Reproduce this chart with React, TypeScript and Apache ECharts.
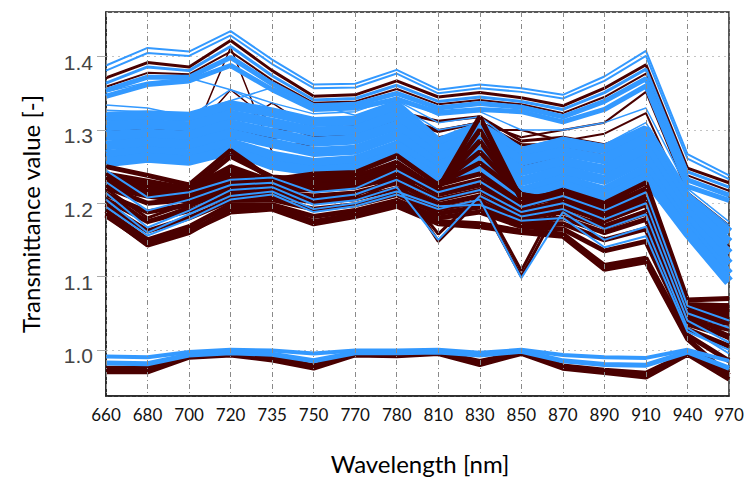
import React, { useEffect, useRef } from 'react';
import * as echarts from 'echarts';

// Wavelength channels (nm)
const wavelengths = ['660', '680', '700', '720', '735', '750', '770', '780', '810', '830', '850', '870', '890', '910', '940', '970'];

// Upper cluster
const upperBlue1 = [1.388, 1.412, 1.407, 1.435, 1.396, 1.362, 1.363, 1.382, 1.355, 1.362, 1.357, 1.348, 1.373, 1.408, 1.267, 1.238];
const upperBlue2 = [1.381, 1.405, 1.401, 1.429, 1.39, 1.357, 1.358, 1.377, 1.35, 1.357, 1.352, 1.343, 1.367, 1.401, 1.261, 1.233];
const upperBrown1 = [1.371, 1.392, 1.386, 1.422, 1.381, 1.346, 1.348, 1.367, 1.345, 1.351, 1.344, 1.333, 1.357, 1.389, 1.248, 1.228];
const upperBlue3 = [1.364, 1.386, 1.381, 1.414, 1.374, 1.341, 1.343, 1.361, 1.339, 1.345, 1.339, 1.328, 1.351, 1.383, 1.243, 1.222];
const upperBrown2 = [1.359, 1.378, 1.376, 1.407, 1.368, 1.337, 1.339, 1.356, 1.335, 1.341, 1.335, 1.323, 1.345, 1.377, 1.238, 1.217];
const upperBlue4 = [1.354, 1.372, 1.372, 1.399, 1.363, 1.333, 1.335, 1.35, 1.33, 1.336, 1.331, 1.318, 1.339, 1.37, 1.232, 1.211];
const upperBlue5 = [1.346, 1.362, 1.367, 1.388, 1.355, 1.328, 1.33, 1.342, 1.324, 1.328, 1.325, 1.311, 1.328, 1.36, 1.223, 1.204];

// Brown outliers peaking at 720 / 735 nm
const spikeBrown1 = [1.268, 1.262, 1.277, 1.413, 1.27, 1.255, 1.258, 1.28, 1.245, 1.26, 1.215, 1.228, 1.215, 1.245, 1.17, 1.1];
const spikeBrown2 = [1.29, 1.285, 1.29, 1.355, 1.31, 1.29, 1.29, 1.31, 1.28, 1.29, 1.24, 1.255, 1.245, 1.27, 1.19, 1.12];
const spikeBrown3 = [1.3, 1.3, 1.3, 1.3, 1.337, 1.3, 1.3, 1.315, 1.29, 1.3, 1.25, 1.265, 1.255, 1.285, 1.2, 1.135];

// Brown samples between upper cluster and middle band
const midBrown1 = [1.3, 1.3, 1.3, 1.31, 1.3, 1.3, 1.305, 1.325, 1.312, 1.318, 1.285, 1.29, 1.28, 1.3, 1.2, 1.15];
const midBrown2 = [1.29, 1.29, 1.29, 1.3, 1.29, 1.29, 1.295, 1.315, 1.298, 1.31, 1.28, 1.28, 1.27, 1.29, 1.19, 1.14];
const midBrown3 = [1.28, 1.28, 1.28, 1.29, 1.28, 1.28, 1.29, 1.31, 1.288, 1.3, 1.275, 1.275, 1.265, 1.285, 1.185, 1.13];
const riseBrown1 = [1.3, 1.3, 1.3, 1.31, 1.3, 1.3, 1.3, 1.32, 1.3, 1.31, 1.29, 1.3, 1.31, 1.352, 1.215, 1.17];
const riseBrown2 = [1.29, 1.29, 1.29, 1.3, 1.29, 1.29, 1.29, 1.31, 1.29, 1.3, 1.3, 1.285, 1.295, 1.323, 1.2, 1.15];

// Thin blue crossing samples
const crossBlue1 = [1.334, 1.33, 1.318, 1.355, 1.328, 1.312, 1.314, 1.335, 1.3, 1.31, 1.27, 1.28, 1.275, 1.3, 1.21, 1.16];
const crossBlue2 = [1.327, 1.325, 1.322, 1.34, 1.358, 1.335, 1.32, 1.34, 1.31, 1.318, 1.275, 1.29, 1.28, 1.31, 1.215, 1.17];
const crossBlue3 = [1.352, 1.365, 1.371, 1.355, 1.337, 1.322, 1.325, 1.345, 1.32, 1.325, 1.3, 1.3, 1.31, 1.33, 1.22, 1.175];

// Middle blue band
const middleBlue1 = [1.318, 1.32, 1.318, 1.334, 1.324, 1.311, 1.313, 1.333, 1.283, 1.305, 1.27, 1.283, 1.274, 1.3, 1.207, 1.16];
const middleBlue2 = [1.305, 1.308, 1.305, 1.321, 1.31, 1.298, 1.3, 1.32, 1.272, 1.294, 1.258, 1.27, 1.26, 1.288, 1.197, 1.146];
const middleBlue3 = [1.292, 1.295, 1.292, 1.308, 1.296, 1.284, 1.287, 1.306, 1.262, 1.281, 1.244, 1.257, 1.246, 1.274, 1.187, 1.131];
const middleBlue4 = [1.279, 1.283, 1.28, 1.295, 1.282, 1.27, 1.273, 1.293, 1.252, 1.268, 1.23, 1.245, 1.232, 1.26, 1.177, 1.117];
const middleBlue5 = [1.266, 1.271, 1.267, 1.282, 1.265, 1.255, 1.259, 1.279, 1.242, 1.256, 1.216, 1.233, 1.217, 1.246, 1.167, 1.103];
const middleBlue6 = [1.256, 1.262, 1.258, 1.272, 1.252, 1.244, 1.248, 1.268, 1.234, 1.247, 1.207, 1.225, 1.207, 1.235, 1.16, 1.093];

// Lower brown mass
const lowerBrown1 = [1.25, 1.238, 1.225, 1.272, 1.232, 1.24, 1.242, 1.265, 1.225, 1.24, 1.2, 1.218, 1.2, 1.228, 1.068, 1.07];
const lowerBrown2 = [1.24, 1.225, 1.218, 1.264, 1.236, 1.232, 1.236, 1.256, 1.218, 1.232, 1.196, 1.21, 1.192, 1.218, 1.062, 1.06];
const lowerBrown3 = [1.232, 1.212, 1.212, 1.228, 1.225, 1.225, 1.228, 1.245, 1.212, 1.225, 1.19, 1.202, 1.184, 1.208, 1.056, 1.052];
const lowerBrown4 = [1.222, 1.2, 1.205, 1.222, 1.22, 1.218, 1.222, 1.236, 1.205, 1.218, 1.185, 1.195, 1.176, 1.198, 1.05, 1.045];
const lowerBrown5 = [1.212, 1.188, 1.198, 1.216, 1.215, 1.21, 1.214, 1.228, 1.198, 1.21, 1.18, 1.188, 1.168, 1.188, 1.045, 1.036];
const lowerBrown6 = [1.205, 1.175, 1.19, 1.21, 1.21, 1.202, 1.206, 1.22, 1.192, 1.202, 1.175, 1.18, 1.16, 1.178, 1.04, 1.028];
const lowerBrown7 = [1.198, 1.162, 1.18, 1.204, 1.205, 1.192, 1.198, 1.212, 1.186, 1.195, 1.172, 1.172, 1.15, 1.165, 1.035, 1.018];
const lowerBrown8 = [1.19, 1.15, 1.168, 1.198, 1.198, 1.182, 1.19, 1.204, 1.18, 1.188, 1.168, 1.165, 1.135, 1.148, 1.028, 1.005];
const lowerBrown9 = [1.185, 1.143, 1.16, 1.192, 1.195, 1.175, 1.185, 1.198, 1.175, 1.172, 1.162, 1.158, 1.115, 1.125, 1.02, 0.985];
const lowerBrown10 = [1.183, 1.145, 1.162, 1.188, 1.192, 1.172, 1.182, 1.196, 1.172, 1.168, 1.16, 1.155, 1.11, 1.12, 1.015, 0.965];

// Brown samples peaking at 830 nm
const peakBrown1 = [1.24, 1.23, 1.22, 1.25, 1.23, 1.235, 1.238, 1.25, 1.22, 1.318, 1.205, 1.215, 1.195, 1.22, 1.06, 1.06];
const peakBrown2 = [1.235, 1.225, 1.215, 1.245, 1.228, 1.23, 1.233, 1.245, 1.222, 1.3, 1.207, 1.21, 1.19, 1.215, 1.058, 1.055];
const peakBrown3 = [1.23, 1.22, 1.21, 1.24, 1.226, 1.228, 1.23, 1.24, 1.224, 1.285, 1.21, 1.206, 1.186, 1.21, 1.055, 1.05];
const peakBrown4 = [1.226, 1.215, 1.206, 1.236, 1.224, 1.226, 1.228, 1.236, 1.226, 1.27, 1.212, 1.203, 1.183, 1.205, 1.052, 1.046];
const peakBrown5 = [1.222, 1.21, 1.202, 1.232, 1.222, 1.224, 1.226, 1.232, 1.226, 1.255, 1.212, 1.2, 1.18, 1.2, 1.05, 1.042];

// Brown samples dipping at 810 / 850 nm
const dipBrown1 = [1.22, 1.18, 1.2, 1.225, 1.225, 1.205, 1.21, 1.235, 1.148, 1.205, 1.1, 1.205, 1.17, 1.19, 1.045, 1.02];
const dipBrown2 = [1.215, 1.175, 1.195, 1.22, 1.222, 1.2, 1.205, 1.23, 1.158, 1.212, 1.108, 1.215, 1.165, 1.185, 1.042, 1.015];

// Blue samples inside the lower mass
const lowerBlue1 = [1.245, 1.208, 1.215, 1.232, 1.235, 1.215, 1.22, 1.245, 1.215, 1.23, 1.195, 1.21, 1.19, 1.215, 1.06, 1.04];
const lowerBlue2 = [1.229, 1.19, 1.205, 1.225, 1.228, 1.205, 1.212, 1.232, 1.205, 1.218, 1.188, 1.2, 1.178, 1.2, 1.05, 1.03];
const lowerBlue3 = [1.214, 1.167, 1.19, 1.218, 1.222, 1.198, 1.204, 1.222, 1.15, 1.21, 1.182, 1.192, 1.165, 1.185, 1.04, 1.01];
const lowerBlue4 = [1.195, 1.156, 1.178, 1.205, 1.212, 1.188, 1.196, 1.212, 1.192, 1.205, 1.098, 1.188, 1.15, 1.168, 1.03, 0.995];
const lowerBlue5 = [1.205, 1.16, 1.185, 1.21, 1.216, 1.192, 1.2, 1.216, 1.196, 1.198, 1.176, 1.18, 1.14, 1.155, 1.025, 1.0];

// Reference cluster near 1.0
const baseBrown2 = [0.97, 0.97, 0.99, 0.993, 0.986, 0.975, 0.993, 0.992, 0.995, 0.98, 0.995, 0.975, 0.969, 0.963, 0.994, 0.96];
const baseBrown1 = [0.975, 0.975, 0.991, 0.994, 0.99, 0.978, 0.994, 0.993, 0.996, 0.984, 0.996, 0.978, 0.972, 0.968, 0.995, 0.968];
const baseBlue2 = [0.982, 0.981, 0.993, 0.996, 0.994, 0.985, 0.996, 0.996, 0.997, 0.993, 0.998, 0.985, 0.98, 0.979, 0.997, 0.975];
const baseBlue1 = [0.991, 0.99, 0.997, 1.0, 0.999, 0.995, 0.999, 0.999, 1.0, 0.996, 1.0, 0.993, 0.99, 0.989, 1.0, 0.985];

const BROWN = '#4a0000';
const BLUE = '#3399ff';

// Drawing order: [values, colour, line width]
const layers: [number[], string, number][] = [
  [spikeBrown1, BROWN, 1.5],
  [spikeBrown2, BROWN, 1.5],
  [spikeBrown3, BROWN, 1.5],
  [midBrown1, BROWN, 3],
  [midBrown2, BROWN, 3],
  [midBrown3, BROWN, 3],
  [riseBrown1, BROWN, 2],
  [riseBrown2, BROWN, 2],
  [upperBrown1, BROWN, 3],
  [upperBrown2, BROWN, 2],
  [upperBlue1, BLUE, 2],
  [upperBlue2, BLUE, 2],
  [upperBlue3, BLUE, 3],
  [upperBlue4, BLUE, 5],
  [upperBlue5, BLUE, 5],
  [crossBlue1, BLUE, 1.5],
  [crossBlue2, BLUE, 1.5],
  [crossBlue3, BLUE, 1.5],
  [middleBlue1, BLUE, 10],
  [middleBlue2, BLUE, 10],
  [middleBlue3, BLUE, 10],
  [middleBlue4, BLUE, 10],
  [middleBlue5, BLUE, 10],
  [middleBlue6, BLUE, 10],
  [lowerBrown1, BROWN, 5],
  [lowerBrown2, BROWN, 5],
  [lowerBrown3, BROWN, 5],
  [lowerBrown4, BROWN, 5],
  [lowerBrown5, BROWN, 5],
  [lowerBrown6, BROWN, 5],
  [lowerBrown7, BROWN, 5],
  [lowerBrown8, BROWN, 5],
  [lowerBrown9, BROWN, 5],
  [lowerBrown10, BROWN, 5],
  [peakBrown1, BROWN, 5],
  [peakBrown2, BROWN, 5],
  [peakBrown3, BROWN, 5],
  [peakBrown4, BROWN, 5],
  [peakBrown5, BROWN, 5],
  [dipBrown1, BROWN, 3],
  [dipBrown2, BROWN, 3],
  [lowerBlue1, BLUE, 2],
  [lowerBlue2, BLUE, 2],
  [lowerBlue3, BLUE, 2],
  [lowerBlue4, BLUE, 2],
  [lowerBlue5, BLUE, 2],
  [baseBrown2, BROWN, 5],
  [baseBrown1, BROWN, 5],
  [baseBlue2, BLUE, 5],
  [baseBlue1, BLUE, 4],
];

export default function App() {
  const ref = useRef<HTMLDivElement>(null);

  useEffect(() => {
    if (!ref.current) return;
    const chart = echarts.init(ref.current, null, { renderer: 'svg' });
    chart.setOption({
      animation: false,
      backgroundColor: '#ffffff',
      grid: {
        left: 106,
        right: 21,
        top: 12,
        bottom: 85,
        show: true,
        borderColor: '#222',
        borderWidth: 1.5,
        backgroundColor: 'transparent',
      },
      xAxis: {
        type: 'category',
        data: wavelengths,
        boundaryGap: false,
        axisLine: { show: true, lineStyle: { color: '#222', width: 1.5 } },
        axisTick: { show: false },
        axisLabel: {
          margin: 10,
          fontFamily: 'Lato',
          fontSize: 17,
          color: '#111',
          interval: 0,
        },
        splitLine: {
          show: true,
          lineStyle: { color: '#8a8a8a', width: 1, type: [5, 3, 1, 3] },
        },
        z: 10,
      },
      yAxis: {
        type: 'value',
        min: 0.937,
        max: 1.461,
        splitNumber: 5,
        axisLine: { show: true, lineStyle: { color: '#222', width: 1.5 } },
        axisTick: { show: true, length: 9, lineStyle: { color: '#aaa' } },
        axisLabel: {
          showMinLabel: false,
          showMaxLabel: false,
          margin: 13,
          formatter: (v: number) => '{t|' + v.toFixed(1) + '}',
          rich: {
            t: {
              fontFamily: 'Liberation Sans',
              fontSize: 21,
              color: '#444',
              padding: [12, 0, 0, 0],
            },
          },
        },
        splitLine: {
          show: true,
          lineStyle: { color: '#c4c4c4', width: 1.2, type: [2, 4] },
        },
      },
      graphic: [
        {
          type: 'text',
          x: 30,
          y: 214,
          rotation: Math.PI / 2,
          style: {
            text: 'Transmittance value [-]',
            font: '24px Lato',
            fill: '#000',
            align: 'center',
            verticalAlign: 'middle',
          },
        },
        {
          type: 'text',
          x: 420,
          y: 463,
          style: {
            text: 'Wavelength [nm]',
            font: '24px Lato',
            fill: '#000',
            align: 'center',
            verticalAlign: 'middle',
          },
        },
      ],
      series: layers.map(([values, color, width], i) => ({
        name: 's' + i,
        type: 'line',
        data: values,
        symbol: 'none',
        silent: true,
        lineStyle: { color, width },
        z: 2,
      })),
    });
    return () => chart.dispose();
  }, []);

  return (
    <div
      ref={ref}
      style={{ position: 'fixed', left: 0, top: 0, width: 750, height: 481 }}
    />
  );
}
